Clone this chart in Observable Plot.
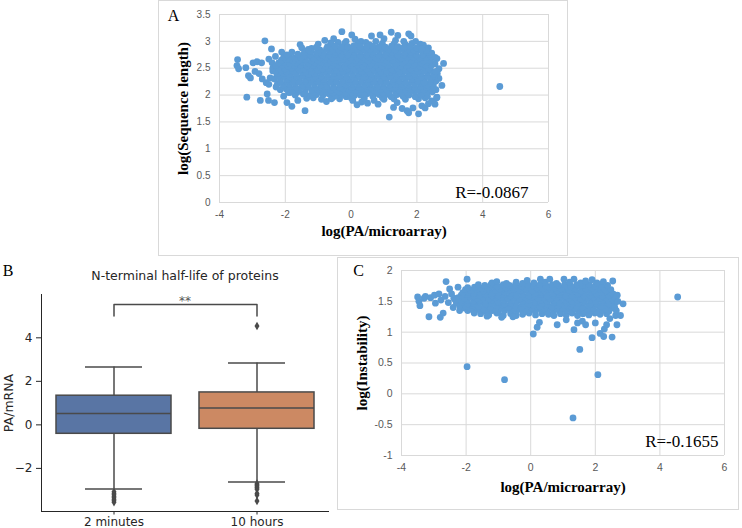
<!DOCTYPE html>
<html>
<head>
<meta charset="utf-8">
<script src="https://cdn.jsdelivr.net/npm/d3@7"></script>
<script src="https://cdn.jsdelivr.net/npm/@observablehq/plot@0.6"></script>
<style>
  html, body { margin: 0; padding: 0; background: #fff; }
  body { width: 742px; height: 528px; position: relative; overflow: hidden; }
  .panel { position: absolute; box-sizing: border-box; }
  .framed { border: 1px solid #d9d9d9; }
  .panel svg { display: block; }
</style>
</head>
<body>
<div id="panelA" class="panel framed" style="left:158px;top:0;width:410px;height:256px"></div>
<div id="panelB" class="panel" style="left:0;top:255px;width:330px;height:273px"></div>
<div id="panelC" class="panel framed" style="left:337px;top:257px;width:402px;height:253px"></div>
<script>
// ---- Panel A: log(PA/microarray) vs log(Sequence length) ----
const paTicks = [-4, -2, 0, 2, 4, 6];
const lengthTicks = [0, 0.5, 1, 1.5, 2, 2.5, 3, 3.5];
const lengthR = "R=-0.0867";
const lengthPoints = [
  // sparse left tail
  [-3.47,2.55],[-3.45,2.66],[-3.42,2.49],[-3.20,2.51],[-3.17,1.96],[-3.12,2.36],[-3.06,2.32],[-2.98,2.60],
  [-2.92,2.44],[-2.86,2.62],[-2.80,2.40],[-2.72,2.60],[-2.70,2.30],[-2.62,3.01],[-2.76,1.90],[-2.58,2.23],
  [-2.55,2.02],[-2.51,1.90],[-2.50,2.20],[-2.50,2.67],[-2.46,2.32],[-2.42,2.86],[-2.40,2.60],[-2.38,2.45],
  [-2.33,1.86],[-2.30,2.72],[-2.28,2.15],[-2.25,2.38],
  [-2.11,2.80],[-2.05,1.98],[-1.95,1.86],[-1.90,2.05],[-1.80,1.79],[-1.70,2.07],[-1.62,1.90],[-1.55,2.94],
  [-1.50,2.88],[-1.40,1.71],[-1.35,2.82],[-1.20,2.87],[-1.15,1.95],[-1.00,2.95],[-0.90,1.92],
  // upper edge
  [-0.80,3.02],[-0.62,2.97],[-0.53,3.05],[-0.40,2.98],[-0.28,3.18],[-0.15,3.00],[0.02,3.12],[0.12,3.04],
  [0.30,3.00],[0.45,2.98],[0.62,3.10],[0.75,3.00],[0.88,3.12],[1.00,3.05],[1.22,3.17],[1.35,3.02],
  [1.42,3.11],[1.60,3.00],[1.75,3.14],[1.82,3.10],[1.96,3.00],[2.10,2.95],[2.20,2.93],[2.35,2.88],
  [-0.60,2.95],[-0.20,2.96],[0.20,2.95],[0.55,2.94],[0.95,2.96],[1.30,2.95],[1.65,2.94],[1.85,2.96],
  // lower edge
  [-0.75,1.88],[-0.55,1.96],[-0.35,1.93],[-0.15,1.97],[0.05,1.90],[0.18,1.82],[0.32,1.87],[0.50,1.85],
  [0.70,1.90],[0.82,1.83],[1.00,1.92],[1.16,1.59],[1.29,1.77],[1.40,1.86],[1.55,1.75],[1.70,1.71],
  [1.75,1.67],[1.88,1.76],[2.05,1.65],[2.15,1.80],[2.25,1.76],[2.35,1.84],[2.45,1.89],[2.55,1.83],[2.60,1.95],
  [-1.35,1.94],[-0.60,1.93],[0.00,1.95],[0.40,1.94],[0.95,1.95],[1.30,1.93],[1.65,1.92],[2.05,1.93],[2.25,1.95],
  // right edge
  [2.45,2.78],[2.55,2.70],[2.61,2.68],[2.67,2.49],[2.81,2.59],[2.67,2.31],[2.76,2.18],[2.61,1.96],
  [2.58,2.10],[2.62,2.40],[2.55,2.58],
  [4.52,2.16],
  // dense core
  [-1.70,2.00],[-1.45,2.02],[-1.25,1.99],[-1.05,2.01],[-0.85,2.00],[-0.66,2.02],[-0.47,1.99],[-0.28,2.01],
  [-0.09,2.02],[0.10,1.99],[0.28,2.00],[0.47,2.02],[0.66,1.98],[0.85,2.01],[1.04,2.00],[1.22,1.97],
  [1.40,2.01],[1.58,1.98],[1.76,2.00],[1.95,1.97],[2.13,2.00],[2.32,1.98],
  [-1.86,2.05],[-1.62,2.06],[-1.40,2.04],[-1.15,2.05],[-0.93,2.06],[-0.74,2.04],[-0.55,2.05],[-0.36,2.06],
  [-0.17,2.04],[0.02,2.05],[0.21,2.06],[0.40,2.04],[0.59,2.05],[0.78,2.06],[0.97,2.04],[1.16,2.05],
  [1.35,2.06],[1.54,2.04],[1.73,2.05],[1.92,2.06],[2.11,2.04],[2.30,2.05],[2.47,2.06],
  [-2.15,2.10],[-1.96,2.11],[-1.77,2.09],[-1.58,2.10],[-1.39,2.12],[-1.20,2.09],[-1.01,2.10],[-0.82,2.11],
  [-0.63,2.09],[-0.44,2.10],[-0.25,2.12],[-0.06,2.10],[0.13,2.09],[0.32,2.11],[0.51,2.10],[0.70,2.09],
  [0.89,2.11],[1.08,2.10],[1.27,2.12],[1.46,2.09],[1.65,2.10],[1.84,2.11],[2.03,2.09],[2.22,2.10],[2.41,2.12],
  [-2.05,2.15],[-1.87,2.16],[-1.68,2.14],[-1.49,2.15],[-1.30,2.16],[-1.11,2.14],[-0.92,2.15],[-0.73,2.16],
  [-0.54,2.14],[-0.35,2.15],[-0.16,2.16],[0.03,2.14],[0.22,2.15],[0.41,2.16],[0.60,2.14],[0.79,2.15],
  [0.98,2.16],[1.17,2.14],[1.36,2.15],[1.55,2.16],[1.74,2.14],[1.93,2.15],[2.12,2.16],[2.31,2.14],[2.50,2.15],
  [-2.24,2.21],[-2.06,2.19],[-1.87,2.20],[-1.68,2.22],[-1.49,2.19],[-1.30,2.20],[-1.11,2.21],[-0.92,2.19],
  [-0.73,2.20],[-0.54,2.22],[-0.35,2.20],[-0.16,2.19],[0.03,2.21],[0.22,2.20],[0.41,2.19],[0.60,2.21],
  [0.79,2.20],[0.98,2.22],[1.17,2.19],[1.36,2.20],[1.55,2.21],[1.74,2.19],[1.93,2.20],[2.12,2.22],[2.31,2.19],[2.50,2.21],
  [-2.15,2.25],[-1.96,2.26],[-1.77,2.24],[-1.58,2.25],[-1.39,2.26],[-1.20,2.24],[-1.01,2.25],[-0.82,2.26],
  [-0.63,2.24],[-0.44,2.25],[-0.25,2.26],[-0.06,2.24],[0.13,2.25],[0.32,2.26],[0.51,2.24],[0.70,2.25],
  [0.89,2.26],[1.08,2.24],[1.27,2.25],[1.46,2.26],[1.65,2.24],[1.84,2.25],[2.03,2.26],[2.22,2.24],[2.41,2.25],[2.58,2.26],
  [-2.33,2.30],[-2.14,2.31],[-1.95,2.29],[-1.76,2.30],[-1.57,2.32],[-1.38,2.29],[-1.19,2.30],[-1.00,2.31],
  [-0.81,2.29],[-0.62,2.30],[-0.43,2.32],[-0.24,2.30],[-0.05,2.29],[0.14,2.31],[0.33,2.30],[0.52,2.29],
  [0.71,2.31],[0.90,2.30],[1.09,2.32],[1.28,2.29],[1.47,2.30],[1.66,2.31],[1.85,2.29],[2.04,2.30],[2.23,2.32],[2.42,2.29],
  [-2.22,2.35],[-2.04,2.36],[-1.85,2.34],[-1.66,2.35],[-1.47,2.36],[-1.28,2.34],[-1.09,2.35],[-0.90,2.36],
  [-0.71,2.34],[-0.52,2.35],[-0.33,2.36],[-0.14,2.34],[0.05,2.35],[0.24,2.36],[0.43,2.34],[0.62,2.35],
  [0.81,2.36],[1.00,2.34],[1.19,2.35],[1.38,2.36],[1.57,2.34],[1.76,2.35],[1.95,2.36],[2.14,2.34],[2.33,2.35],[2.52,2.36],
  [-2.24,2.40],[-2.05,2.41],[-1.86,2.39],[-1.67,2.40],[-1.48,2.42],[-1.29,2.39],[-1.10,2.40],[-0.91,2.41],
  [-0.72,2.39],[-0.53,2.40],[-0.34,2.42],[-0.15,2.40],[0.04,2.39],[0.23,2.41],[0.42,2.40],[0.61,2.39],
  [0.80,2.41],[0.99,2.40],[1.18,2.42],[1.37,2.39],[1.56,2.40],[1.75,2.41],[1.94,2.39],[2.13,2.40],[2.32,2.42],[2.51,2.39],
  [-2.30,2.45],[-2.12,2.46],[-1.95,2.44],[-1.76,2.45],[-1.57,2.46],[-1.38,2.44],[-1.19,2.45],[-1.00,2.46],
  [-0.81,2.44],[-0.62,2.45],[-0.43,2.46],[-0.24,2.44],[-0.05,2.45],[0.14,2.46],[0.33,2.44],[0.52,2.45],
  [0.71,2.46],[0.90,2.44],[1.09,2.45],[1.28,2.46],[1.47,2.44],[1.66,2.45],[1.85,2.46],[2.04,2.44],[2.23,2.45],[2.42,2.46],[2.58,2.44],
  [-2.38,2.50],[-2.19,2.51],[-2.00,2.49],[-1.81,2.50],[-1.62,2.52],[-1.43,2.49],[-1.24,2.50],[-1.05,2.51],
  [-0.86,2.49],[-0.67,2.50],[-0.48,2.52],[-0.29,2.50],[-0.10,2.49],[0.09,2.51],[0.28,2.50],[0.47,2.49],
  [0.66,2.51],[0.85,2.50],[1.04,2.52],[1.23,2.49],[1.42,2.50],[1.61,2.51],[1.80,2.49],[1.99,2.50],[2.18,2.52],[2.37,2.49],
  [-2.28,2.55],[-2.10,2.56],[-1.91,2.54],[-1.72,2.55],[-1.53,2.56],[-1.34,2.54],[-1.15,2.55],[-0.96,2.56],
  [-0.77,2.54],[-0.58,2.55],[-0.39,2.56],[-0.20,2.54],[-0.01,2.55],[0.18,2.56],[0.37,2.54],[0.56,2.55],
  [0.75,2.56],[0.94,2.54],[1.13,2.55],[1.32,2.56],[1.51,2.54],[1.70,2.55],[1.89,2.56],[2.08,2.54],[2.27,2.55],[2.45,2.56],
  [-2.20,2.60],[-2.03,2.61],[-1.86,2.59],[-1.67,2.60],[-1.48,2.62],[-1.29,2.59],[-1.10,2.60],[-0.91,2.61],
  [-0.72,2.59],[-0.53,2.60],[-0.34,2.62],[-0.15,2.60],[0.04,2.59],[0.23,2.61],[0.42,2.60],[0.61,2.59],
  [0.80,2.61],[0.99,2.60],[1.18,2.62],[1.37,2.59],[1.56,2.60],[1.75,2.61],[1.94,2.59],[2.13,2.60],[2.32,2.62],[2.48,2.59],
  [-2.12,2.65],[-1.95,2.66],[-1.77,2.64],[-1.58,2.65],[-1.39,2.66],[-1.20,2.64],[-1.01,2.65],[-0.82,2.66],
  [-0.63,2.64],[-0.44,2.65],[-0.25,2.66],[-0.06,2.64],[0.13,2.65],[0.32,2.66],[0.51,2.64],[0.70,2.65],
  [0.89,2.66],[1.08,2.64],[1.27,2.65],[1.46,2.66],[1.65,2.64],[1.84,2.65],[2.03,2.66],[2.22,2.64],[2.40,2.65],
  [-2.05,2.70],[-1.88,2.71],[-1.72,2.69],[-1.52,2.70],[-1.33,2.72],[-1.14,2.69],[-0.95,2.70],[-0.76,2.71],
  [-0.57,2.69],[-0.38,2.70],[-0.19,2.72],[0.00,2.70],[0.19,2.69],[0.38,2.71],[0.57,2.70],[0.76,2.69],
  [0.95,2.71],[1.14,2.70],[1.33,2.72],[1.52,2.69],[1.71,2.70],[1.90,2.71],[2.09,2.69],[2.28,2.70],[2.44,2.72],
  [-1.95,2.75],[-1.62,2.76],[-1.43,2.74],[-1.24,2.75],[-1.05,2.76],[-0.86,2.74],[-0.67,2.75],[-0.48,2.76],
  [-0.29,2.74],[-0.10,2.75],[0.09,2.76],[0.28,2.74],[0.47,2.75],[0.66,2.76],[0.85,2.74],[1.04,2.75],
  [1.23,2.76],[1.42,2.74],[1.61,2.75],[1.80,2.76],[1.99,2.74],[2.18,2.75],[2.38,2.76],
  [-1.80,2.80],[-1.42,2.79],[-1.22,2.81],[-1.03,2.80],[-0.84,2.79],[-0.65,2.81],[-0.46,2.80],[-0.27,2.82],
  [-0.08,2.79],[0.11,2.80],[0.30,2.81],[0.49,2.79],[0.68,2.80],[0.87,2.82],[1.06,2.79],[1.25,2.80],
  [1.44,2.81],[1.63,2.79],[1.82,2.80],[2.01,2.82],[2.20,2.79],[2.36,2.80],
  [-1.30,2.85],[-0.95,2.84],[-0.75,2.86],[-0.56,2.85],[-0.37,2.84],[-0.18,2.86],[0.01,2.85],[0.20,2.84],
  [0.39,2.86],[0.58,2.85],[0.77,2.84],[0.96,2.86],[1.15,2.85],[1.34,2.84],[1.53,2.86],[1.72,2.85],
  [1.91,2.84],[2.10,2.86],[2.28,2.83],
  [-1.05,2.89],[-0.72,2.90],[-0.48,2.91],[-0.30,2.89],[-0.10,2.90],[0.09,2.92],[0.28,2.90],[0.47,2.89],
  [0.66,2.91],[0.85,2.90],[1.04,2.89],[1.23,2.91],[1.42,2.90],[1.61,2.89],[1.80,2.91],[1.99,2.88],[2.15,2.86]
];

// ---- Panel B: PA/mRNA by N-terminal half-life ----
const halfLifeGroups = ["2 minutes", "10 hours"];
const boxColors = ["#5975a4", "#cc8963"];
const q1Values = [-0.41, -0.18];
const medianValues = [0.52, 0.78];
const q3Values = [1.34, 1.49];
const whiskerLow = [-2.95, -2.63];
const whiskerHigh = [2.66, 2.84];
const outliers2min = [-3.07, -3.14, -3.21, -3.28, -3.35, -3.42, -3.49, -3.55];
const outliers10h = [4.54, -2.70, -2.75, -2.80, -2.85, -2.90, -2.96, -3.15, -3.22, -3.50];
const bracketBase = 5.0;
const bracketTop = 5.53;
const bTicks = [-2, 0, 2, 4];

// ---- Panel C: log(PA/microarray) vs log(Instability) ----
const instabilityTicks = [-1, -0.5, 0, 0.5, 1, 1.5, 2];
const instabilityR = "R=-0.1655";
const instabilityPoints = [
  // left tail
  [-3.50,1.57],[-3.46,1.50],[-3.43,1.43],[-3.30,1.55],[-3.26,1.58],[-3.15,1.25],[-3.10,1.56],[-2.98,1.60],
  [-2.95,1.47],[-2.84,1.62],[-2.80,1.24],[-2.78,1.52],[-2.71,1.31],[-2.65,1.58],[-2.62,1.82],[-2.55,1.48],
  [-2.51,1.70],[-2.45,1.62],[-2.40,1.40],[-2.38,1.55],[-2.25,1.73],[-2.20,1.35],[-1.97,1.86],[-1.75,1.31],
  // dense core
  [-1.55,1.30],[-1.30,1.28],[-1.05,1.31],[-0.85,1.27],[-0.62,1.30],[-0.45,1.27],[-0.25,1.29],[-0.05,1.31],
  [0.15,1.28],[0.35,1.30],[0.55,1.29],[0.72,1.27],[0.92,1.30],[1.10,1.28],[1.28,1.31],[1.45,1.27],
  [1.62,1.30],[1.80,1.28],[1.98,1.31],[2.15,1.29],[2.35,1.30],
  [-1.95,1.35],[-1.76,1.34],[-1.57,1.35],[-1.38,1.34],[-1.19,1.35],[-1.00,1.33],[-0.81,1.35],[-0.62,1.34],
  [-0.43,1.35],[-0.24,1.33],[-0.05,1.35],[0.14,1.34],[0.33,1.35],[0.52,1.33],[0.71,1.35],[0.90,1.34],
  [1.09,1.35],[1.28,1.33],[1.47,1.35],[1.66,1.34],[1.85,1.35],[2.04,1.33],[2.23,1.35],[2.42,1.34],
  [-2.05,1.39],[-1.86,1.38],[-1.67,1.40],[-1.48,1.38],[-1.29,1.39],[-1.10,1.37],[-0.91,1.39],[-0.72,1.40],
  [-0.53,1.38],[-0.34,1.39],[-0.15,1.37],[0.04,1.39],[0.23,1.40],[0.42,1.38],[0.61,1.39],[0.80,1.37],
  [0.99,1.39],[1.18,1.40],[1.37,1.38],[1.56,1.39],[1.75,1.37],[1.94,1.39],[2.13,1.40],[2.32,1.38],[2.50,1.39],
  [-2.20,1.43],[-2.00,1.42],[-1.81,1.44],[-1.62,1.42],[-1.43,1.43],[-1.24,1.41],[-1.05,1.43],[-0.86,1.44],
  [-0.67,1.42],[-0.48,1.43],[-0.29,1.41],[-0.10,1.43],[0.09,1.44],[0.28,1.42],[0.47,1.43],[0.66,1.41],
  [0.85,1.43],[1.04,1.44],[1.23,1.42],[1.42,1.43],[1.61,1.41],[1.80,1.43],[1.99,1.44],[2.18,1.42],[2.37,1.43],[2.55,1.42],
  [-2.30,1.47],[-2.12,1.48],[-1.95,1.46],[-1.76,1.47],[-1.57,1.49],[-1.38,1.46],[-1.19,1.47],[-1.00,1.48],
  [-0.81,1.46],[-0.62,1.47],[-0.43,1.49],[-0.24,1.47],[-0.05,1.46],[0.14,1.48],[0.33,1.47],[0.52,1.46],
  [0.71,1.48],[0.90,1.47],[1.09,1.49],[1.28,1.46],[1.47,1.47],[1.66,1.48],[1.85,1.46],[2.04,1.47],
  [2.23,1.49],[2.42,1.46],[2.60,1.47],
  [-2.33,1.52],[-2.15,1.51],[-1.96,1.52],[-1.77,1.50],[-1.58,1.52],[-1.39,1.51],[-1.20,1.52],[-1.01,1.50],
  [-0.82,1.52],[-0.63,1.51],[-0.44,1.52],[-0.25,1.50],[-0.06,1.52],[0.13,1.51],[0.32,1.52],[0.51,1.50],
  [0.70,1.52],[0.89,1.51],[1.08,1.52],[1.27,1.50],[1.46,1.52],[1.65,1.51],[1.84,1.52],[2.03,1.50],[2.22,1.52],[2.41,1.51],[2.58,1.52],
  [-2.24,1.56],[-2.05,1.55],[-1.86,1.57],[-1.67,1.55],[-1.48,1.56],[-1.29,1.54],[-1.10,1.56],[-0.91,1.57],
  [-0.72,1.55],[-0.53,1.56],[-0.34,1.54],[-0.15,1.56],[0.04,1.57],[0.23,1.55],[0.42,1.56],[0.61,1.54],
  [0.80,1.56],[0.99,1.57],[1.18,1.55],[1.37,1.56],[1.56,1.54],[1.75,1.56],[1.94,1.57],[2.13,1.55],[2.32,1.56],[2.51,1.54],
  [-2.15,1.60],[-1.96,1.61],[-1.77,1.59],[-1.58,1.60],[-1.39,1.61],[-1.20,1.59],[-1.01,1.60],[-0.82,1.61],
  [-0.63,1.59],[-0.44,1.60],[-0.25,1.61],[-0.06,1.59],[0.13,1.60],[0.32,1.61],[0.51,1.59],[0.70,1.60],
  [0.89,1.61],[1.08,1.59],[1.27,1.60],[1.46,1.61],[1.65,1.59],[1.84,1.60],[2.03,1.61],[2.22,1.59],[2.41,1.60],[2.58,1.58],
  [-2.10,1.64],[-1.92,1.65],[-1.76,1.63],[-1.57,1.64],[-1.38,1.66],[-1.19,1.63],[-1.00,1.64],[-0.81,1.65],
  [-0.62,1.63],[-0.43,1.64],[-0.24,1.66],[-0.05,1.64],[0.14,1.63],[0.33,1.65],[0.52,1.64],[0.71,1.63],
  [0.90,1.65],[1.09,1.64],[1.28,1.66],[1.47,1.63],[1.66,1.64],[1.85,1.65],[2.04,1.63],[2.23,1.64],[2.42,1.66],
  [-2.02,1.69],[-1.85,1.68],[-1.66,1.69],[-1.47,1.67],[-1.28,1.69],[-1.09,1.68],[-0.90,1.69],[-0.71,1.67],
  [-0.52,1.69],[-0.33,1.68],[-0.14,1.69],[0.05,1.67],[0.24,1.69],[0.43,1.68],[0.62,1.69],[0.81,1.67],
  [1.00,1.69],[1.19,1.68],[1.38,1.69],[1.57,1.67],[1.76,1.69],[1.95,1.68],[2.14,1.69],[2.33,1.67],[2.48,1.69],
  [-1.95,1.72],[-1.74,1.73],[-1.52,1.71],[-1.33,1.72],[-1.14,1.74],[-0.95,1.71],[-0.76,1.72],[-0.57,1.73],
  [-0.38,1.71],[-0.19,1.72],[0.00,1.74],[0.19,1.72],[0.38,1.71],[0.57,1.73],[0.76,1.72],[0.95,1.71],
  [1.14,1.73],[1.33,1.72],[1.52,1.74],[1.71,1.71],[1.90,1.72],[2.09,1.73],[2.28,1.71],
  [-1.62,1.77],[-1.42,1.76],[-1.23,1.77],[-1.04,1.75],[-0.85,1.77],[-0.66,1.76],[-0.47,1.77],[-0.28,1.75],
  [-0.09,1.77],[0.10,1.76],[0.29,1.77],[0.48,1.75],[0.67,1.77],[0.86,1.76],[1.05,1.77],[1.24,1.75],
  [1.43,1.77],[1.62,1.76],[1.81,1.77],[2.00,1.75],[2.19,1.77],[2.38,1.76],
  // upper edge
  [-1.20,1.80],[-1.05,1.82],[-0.75,1.79],[-0.45,1.81],[-0.25,1.79],[-0.11,1.84],[0.10,1.80],[0.30,1.86],
  [0.45,1.81],[0.59,1.86],[0.80,1.79],[1.03,1.86],[1.20,1.81],[1.34,1.86],[1.55,1.80],[1.70,1.83],
  [1.90,1.85],[2.05,1.80],[2.25,1.82],[2.54,1.83],
  // lower edge
  [-1.35,1.26],[-0.90,1.24],[-0.55,1.25],[0.08,0.97],[0.20,1.08],[0.27,1.16],[0.82,1.12],[1.10,1.20],
  [1.34,1.04],[1.45,1.15],[1.60,1.18],[1.70,1.12],[1.90,0.91],[2.00,1.15],[2.15,0.98],[2.26,0.93],
  [2.28,1.05],[2.35,1.12],[2.52,0.92],[2.45,1.22],[2.63,1.27],[2.67,1.12],
  // right edge
  [2.55,1.62],[2.62,1.55],[2.68,1.60],[2.70,1.50],[2.78,1.27],[2.86,1.46],[2.60,1.40],[2.65,1.35],
  // isolated proteins
  [-1.97,0.44],[-0.81,0.23],[1.52,0.72],[2.08,0.31],[1.31,-0.39],[4.55,1.57]
];

const excelBlue = "#5b9bd5";
const gridGray = "#d9d9d9";
const serif = "'Liberation Serif', 'Times New Roman', serif";
const fmt = d => String(d);
const centered = {textAnchor: "middle", lineAnchor: "middle"};

function scatterPanel({points, yDomain, yTicks, yTitle, rText, size, m, t}) {
  return Plot.plot({
    width: size[0], height: size[1],
    marginLeft: m[0], marginRight: m[1], marginTop: m[2], marginBottom: m[3],
    style: {fontFamily: "'Liberation Sans', Arial, sans-serif", fontSize: t.tick + "px", color: "#595959", background: "transparent"},
    x: {domain: [-4, 6], ticks: paTicks, tickFormat: fmt, tickSize: 0, tickPadding: 8, label: null},
    y: {domain: yDomain, ticks: yTicks, tickFormat: fmt, tickSize: 0, tickPadding: 9, label: null},
    marks: [
      Plot.ruleX(paTicks, {stroke: gridGray}),
      Plot.ruleY(yTicks, {stroke: gridGray}),
      Plot.dot(points, {x: d => d[0], y: d => d[1], r: 3.4, fill: excelBlue}),
      Plot.text(["log(PA/microarray)"], {...centered, frameAnchor: "bottom", dy: t.xTitleDy, fontFamily: serif, fontWeight: "bold", fontSize: 15, fill: "#000"}),
      Plot.text([yTitle], {...centered, frameAnchor: "left", rotate: -90, dx: t.yTitleDx, fontFamily: serif, fontWeight: "bold", fontSize: 15, fill: "#000"}),
      Plot.text([rText], {frameAnchor: "bottom-right", textAnchor: "end", lineAnchor: "middle", dx: t.rDx, dy: t.rDy, fontFamily: serif, fontSize: 17, fill: "#000"}),
      Plot.text([t.letter], {...centered, frameAnchor: "top-left", dx: t.letterDx, dy: t.letterDy, fontFamily: serif, fontSize: 16, fill: "#000"})
    ]
  });
}

document.getElementById("panelA").append(scatterPanel({
  points: lengthPoints, yDomain: [0, 3.5], yTicks: lengthTicks, yTitle: "log(Sequence length)", rText: lengthR,
  size: [408, 254], m: [60, 19, 13, 53],
  t: {tick: 10, xTitleDy: 28.5, yTitleDx: -36, rDx: -20, rDy: -10, letter: "A", letterDx: -46, letterDy: 1.5}
}));

document.getElementById("panelC").append(scatterPanel({
  points: instabilityPoints, yDomain: [-1, 2], yTicks: instabilityTicks, yTitle: "log(Instability)", rText: instabilityR,
  size: [400, 251], m: [63, 14, 12, 54],
  t: {tick: 10.5, xTitleDy: 31.5, yTitleDx: -39, rDx: -6, rDy: -14, letter: "C", letterDx: -43, letterDy: 0.5}
}));

// ---- Panel B box plot ----
const boxes = halfLifeGroups.map((g, i) => ({
  group: g, color: boxColors[i], q1: q1Values[i], median: medianValues[i], q3: q3Values[i],
  lo: whiskerLow[i], hi: whiskerHigh[i]
}));
const outlierRows = [
  ...outliers2min.map(v => ({group: halfLifeGroups[0], value: v})),
  ...outliers10h.map(v => ({group: halfLifeGroups[1], value: v}))
];
const bracket = [
  {group: halfLifeGroups[0], y: bracketBase}, {group: halfLifeGroups[0], y: bracketTop},
  {group: halfLifeGroups[1], y: bracketTop}, {group: halfLifeGroups[1], y: bracketBase}
];
const lineGray = "#4a4a4a";
const dejavu = "'DejaVu Sans', sans-serif";

document.getElementById("panelB").append(Plot.plot({
  width: 330, height: 273,
  marginLeft: 41, marginRight: 2, marginTop: 39, marginBottom: 17,
  style: {fontFamily: dejavu, fontSize: "12px", color: "#262626", background: "transparent"},
  color: {type: "identity"},
  x: {domain: halfLifeGroups, padding: 0, tickSize: 3.5, tickPadding: 2.5, label: null, line: true},
  y: {domain: [-3.98, 5.99], ticks: bTicks, tickSize: 5, tickPadding: 4, label: null, line: true},
  marks: [
    Plot.ruleX(boxes, {x: "group", y1: "lo", y2: "q1", stroke: lineGray, strokeWidth: 1.5}),
    Plot.ruleX(boxes, {x: "group", y1: "q3", y2: "hi", stroke: lineGray, strokeWidth: 1.5}),
    Plot.tickY(boxes, {x: "group", y: "lo", insetLeft: 43, insetRight: 43, stroke: lineGray, strokeWidth: 1.5}),
    Plot.tickY(boxes, {x: "group", y: "hi", insetLeft: 43, insetRight: 43, stroke: lineGray, strokeWidth: 1.5}),
    Plot.barY(boxes, {x: "group", y1: "q1", y2: "q3", fill: "color", stroke: lineGray, strokeWidth: 1.5, insetLeft: 14, insetRight: 14}),
    Plot.tickY(boxes, {x: "group", y: "median", insetLeft: 14, insetRight: 14, stroke: lineGray, strokeWidth: 1.5}),
    Plot.dot(outlierRows, {x: "group", y: "value", symbol: "diamond", r: 2.6, fill: lineGray}),
    Plot.line(bracket, {x: "group", y: "y", stroke: lineGray, strokeWidth: 1.5}),
    Plot.text(["**"], {...centered, frameAnchor: "top", dy: 6.7, fontFamily: dejavu, fontSize: 12, fill: "#555"}),
    Plot.text(["N-terminal half-life of proteins"], {...centered, frameAnchor: "top", dy: -18.4, fontFamily: dejavu, fontSize: 12.5, fill: "#262626"}),
    Plot.text(["PA/mRNA"], {...centered, frameAnchor: "left", rotate: -90, dx: -32.5, fontFamily: dejavu, fontSize: 12.5, fill: "#262626"}),
    Plot.text(["B"], {...centered, frameAnchor: "top-left", dx: -33.5, dy: -23.5, fontFamily: serif, fontSize: 16, fill: "#000"})
  ]
}));
</script>
</body>
</html>
